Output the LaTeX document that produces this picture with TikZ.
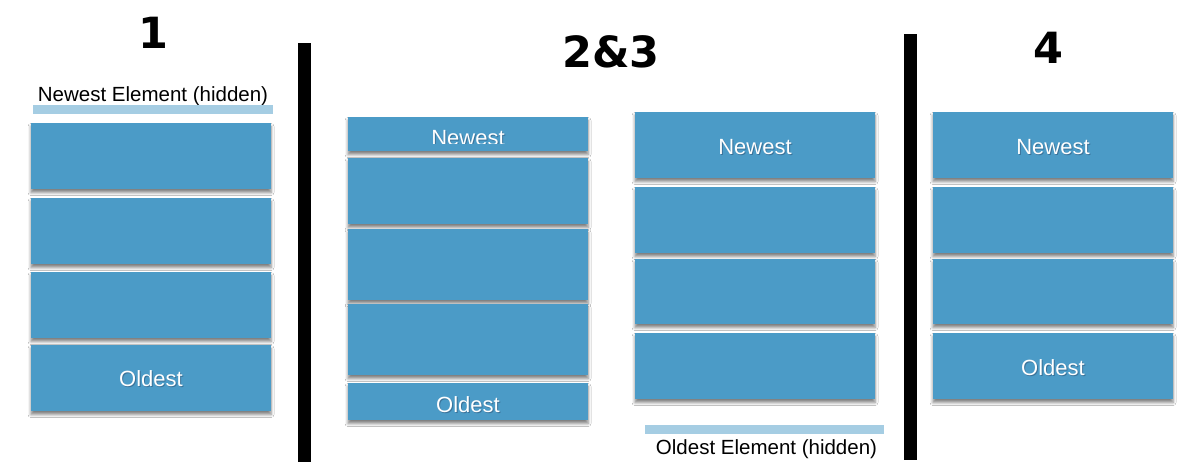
\documentclass[tikz,border=0pt]{standalone}
\usepackage{fontspec}
\setmainfont{Liberation Sans}
\newfontfamily\headfont{DejaVu Sans}
\usetikzlibrary{shadows.blur}
\definecolor{boxblue}{HTML}{4B9BC7}
\definecolor{lightbar}{HTML}{A5CDE3}
\definecolor{txtshadow}{HTML}{3A7299}
\newcommand\shtxt[1]{\leavevmode\rlap{\hspace{1pt}\raisebox{-1.5pt}{\color{txtshadow}#1}}#1}
\begin{document}
\begin{tikzpicture}[x=1pt,y=-1pt,
  blk/.style={rectangle, fill=boxblue, inner sep=0pt, minimum width=240pt,
    blur shadow={shadow xshift=0pt, shadow yshift=-3.5pt, shadow blur radius=3pt, shadow opacity=50}},
  lbl/.style={text=white, font=\fontsize{22}{26}\selectfont, anchor=base, inner sep=0pt},
  hid/.style={font=\fontsize{20.5}{24}\selectfont, anchor=base, inner sep=0pt},
  head/.style={font=\headfont\bfseries\fontsize{43}{50}\selectfont, anchor=base, inner sep=0pt},
  hbar/.style={fill=lightbar},
  vbar/.style={fill=black}]
\fill[white] (0,0) rectangle (1198,474);
\useasboundingbox (0,0) rectangle (1198,474);

% headings
\node[head] (h1) at (153,48) {1};
\node[head] (h23) at (611,67) {2\&3};
\node[head] (h4) at (1048,63) {4};

% separators
\fill[vbar] (298,43) rectangle (311,462);
\fill[vbar] (904,34) rectangle (917,460);

% column 1
\node[hid] (t1) at (153,101) {Newest Element (hidden)};
\fill[hbar] (33,105) rectangle (273,114);
\node[blk, minimum height=66pt] (a1) at (151,156) {};
\node[blk, minimum height=66pt] (a2) at (151,231) {};
\node[blk, minimum height=66pt] (a3) at (151,305) {};
\node[blk, minimum height=66pt] (a4) at (151,378) {};
\node[lbl] (la4) at (151,386) {\shtxt{Oldest}};

% column 2a
\node[blk, minimum height=34pt] (b1) at (468,134) {};
\node[blk, minimum height=66pt] (b2) at (468,191) {};
\node[blk, minimum height=71pt] (b3) at (468,264.5) {};
\node[blk, minimum height=71pt] (b4) at (468,339.5) {};
\node[blk, minimum height=37pt] (b5) at (468,401.5) {};
\begin{scope}
  \clip (348,117) rectangle (588,143.3);
  \node[lbl] (lb1) at (468,145) {\shtxt{Newest}};
\end{scope}
\node[lbl] (lb5) at (468,412) {\shtxt{Oldest}};

% column 2b
\node[blk, minimum height=66pt] (c1) at (755,145) {};
\node[blk, minimum height=66pt] (c2) at (755,220) {};
\node[blk, minimum height=65pt] (c3) at (755,291.5) {};
\node[blk, minimum height=66pt] (c4) at (755,366) {};
\node[lbl] (lc1) at (755,154) {\shtxt{Newest}};
\fill[hbar] (645,425) rectangle (884,434);
\node[hid] (t2) at (766.5,454) {Oldest Element (hidden)};

% column 4
\node[blk, minimum height=66pt] (d1) at (1053,145) {};
\node[blk, minimum height=66pt] (d2) at (1053,220) {};
\node[blk, minimum height=65pt] (d3) at (1053,291.5) {};
\node[blk, minimum height=66pt] (d4) at (1053,366) {};
\node[lbl] (ld1) at (1053,154) {\shtxt{Newest}};
\node[lbl] (ld4) at (1053,375) {\shtxt{Oldest}};
\end{tikzpicture}
\end{document}
